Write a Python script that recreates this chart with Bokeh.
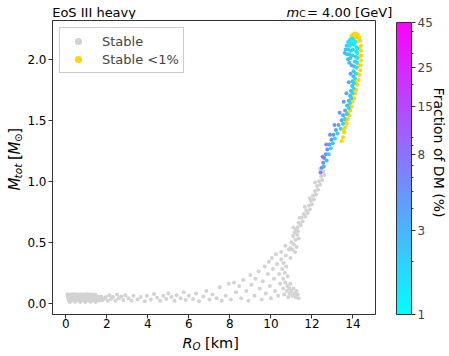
from math import pi
import numpy as np
from bokeh.plotting import figure
from bokeh.layouts import column, row
from bokeh.models import (ColumnDataSource, LogColorMapper, ColorBar, FixedTicker,
                          PrintfTickFormatter, Label, Legend, LegendItem, Range1d)
from bokeh.embed import file_html
from bokeh.resources import INLINE

FONT = "DejaVu Sans"

# ---------------- data ----------------
# stable configurations (grey) : dense low-mass band
band_r = [0.08, 0.20, 0.32, 0.45, 0.57, 0.70, 0.82, 0.95, 1.07, 1.20, 1.32, 1.45,
          0.10, 0.22, 0.35, 0.47, 0.60, 0.72, 0.85, 0.97, 1.10, 1.22, 1.35, 1.47, 1.60, 1.72,
          0.12, 0.25, 0.37, 0.50, 0.62, 0.75, 0.87, 1.00, 1.12, 1.25, 1.37, 1.50, 1.62, 1.75, 1.88,
          0.15, 0.27, 0.40, 0.52, 0.65, 0.77, 0.90, 1.02, 1.15, 1.27, 1.40, 1.52, 1.65, 1.78,
          0.20, 0.45, 0.70, 0.95, 1.20, 1.45]
band_m = [0.072, 0.071, 0.073, 0.072, 0.070, 0.072, 0.071, 0.073, 0.072, 0.070, 0.071, 0.068,
          0.055, 0.056, 0.054, 0.055, 0.057, 0.055, 0.054, 0.056, 0.055, 0.053, 0.056, 0.055, 0.052, 0.054,
          0.038, 0.039, 0.037, 0.038, 0.040, 0.038, 0.037, 0.039, 0.038, 0.036, 0.039, 0.038, 0.037, 0.040, 0.036,
          0.022, 0.023, 0.021, 0.022, 0.024, 0.022, 0.021, 0.023, 0.022, 0.020, 0.023, 0.022, 0.021, 0.024,
          0.010, 0.011, 0.009, 0.010, 0.011, 0.010]
# scattered tail towards larger radii
tail_r = [1.95, 2.05, 2.12, 2.20, 2.30, 2.42, 2.50, 2.58, 2.70, 2.80, 2.90, 3.05, 3.20, 3.30,
          3.50, 3.65, 3.85, 3.95, 4.15, 4.30, 4.45, 4.60, 4.75, 4.90, 5.00, 5.15, 5.30, 5.40,
          5.60, 5.75, 5.85, 6.00, 6.20, 6.35, 6.50, 6.70, 6.85, 7.00, 7.15, 7.35, 7.50, 7.60,
          7.80, 7.95, 8.05, 8.20, 8.30, 8.45, 8.55, 8.65, 8.80, 8.90, 9.00, 9.05, 9.20, 9.25,
          9.40, 9.45, 9.55, 9.60, 9.70, 9.75, 9.85, 9.90, 9.95, 10.00]
tail_m = [0.050, 0.020, 0.065, 0.035, 0.050, 0.020, 0.070, 0.040, 0.055, 0.025, 0.065, 0.040, 0.020, 0.060,
          0.030, 0.050, 0.015, 0.060, 0.030, 0.075, 0.045, 0.020, 0.060, 0.035, 0.080, 0.050, 0.020, 0.065,
          0.040, 0.090, 0.025, 0.060, 0.035, 0.080, 0.015, 0.055, 0.100, 0.030, 0.070, 0.040, 0.130, 0.020,
          0.060, 0.160, 0.030, 0.170, 0.090, 0.140, 0.040, 0.190, 0.100, 0.020, 0.230, 0.150, 0.060, 0.200,
          0.260, 0.120, 0.030, 0.180, 0.300, 0.080, 0.240, 0.340, 0.140, 0.040]
# knot and hook around 10-11.5 km
knot_r = [10.05, 10.10, 10.15, 10.20, 10.25, 10.30, 10.35, 10.40, 10.45, 10.50, 10.50, 10.55,
          10.60, 10.60, 10.62, 10.65, 10.68, 10.70, 10.72, 10.75, 10.78, 10.80, 10.82, 10.85,
          10.88, 10.90, 10.92, 10.95, 11.00, 11.05, 11.10, 11.15, 11.20, 11.25, 11.30, 11.35,
          10.70, 10.95]
knot_m = [0.37, 0.28, 0.20, 0.10, 0.40, 0.32, 0.06, 0.24, 0.16, 0.36, 0.42, 0.28,
          0.20, 0.12, 0.33, 0.07, 0.25, 0.17, 0.39, 0.30, 0.10, 0.14, 0.22, 0.05,
          0.44, 0.12, 0.08, 0.16, 0.10, 0.06, 0.12, 0.08, 0.05, 0.10, 0.07, 0.04,
          0.47, 0.37]
# rising branch up to ~1.1 Msun
rise_r = [10.95, 11.00, 11.05, 11.08, 11.12, 11.15, 11.20, 11.22, 11.25, 11.28, 11.32, 11.10, 11.18, 11.35,
          11.30, 11.35, 11.45, 11.50, 11.55, 11.60, 11.68, 11.72, 11.80, 11.85, 11.90, 11.95, 12.00,
          12.05, 12.10, 12.15, 12.20, 12.25, 12.30, 12.35, 12.40, 12.45, 12.50, 12.55, 12.60,
          11.40, 11.65, 11.90, 12.15, 12.40]
rise_m = [0.45, 0.50, 0.44, 0.55, 0.48, 0.58, 0.52, 0.60, 0.46, 0.56, 0.59, 0.62, 0.42, 0.53,
          0.62, 0.66, 0.64, 0.70, 0.67, 0.73, 0.71, 0.76, 0.74, 0.80, 0.77, 0.84, 0.81,
          0.88, 0.85, 0.92, 0.89, 0.96, 0.93, 1.00, 0.97, 1.04, 1.01, 1.08, 1.05,
          0.70, 0.79, 0.86, 0.99, 1.10]

stable_r = band_r + tail_r + knot_r + rise_r
stable_m = band_m + tail_m + knot_m + rise_m

# stable with a fraction of dark matter (colour = fraction in %)
dm_r = [12.42, 12.48, 12.55, 12.60, 12.58, 12.68, 12.72, 12.75, 12.82, 12.85, 12.92, 12.95,
        13.02, 13.05, 13.12, 13.17, 13.25, 13.30, 13.40, 13.45, 13.52, 13.52, 13.60, 13.62,
        13.70, 13.72, 13.80, 13.80, 13.86, 13.86, 13.92, 13.90, 13.98, 13.96, 14.03, 13.98,
        14.06, 14.02, 14.10, 14.03, 14.14, 14.06, 14.18, 14.10, 14.20, 14.14, 14.21, 14.16,
        14.22, 14.16, 14.22, 14.12, 14.04, 13.95, 13.86, 13.77, 13.70, 13.64, 13.60,
        14.04, 13.94, 13.85, 13.77, 13.71, 14.00, 13.90, 13.82, 13.76, 13.97, 13.88, 13.82,
        12.52, 12.70, 12.88, 13.10, 13.35, 13.55, 13.68, 13.80, 13.88, 13.94]
dm_m = [1.07, 1.11, 1.15, 1.19, 1.12, 1.22, 1.17, 1.26, 1.22, 1.30, 1.27, 1.34,
        1.31, 1.38, 1.35, 1.42, 1.39, 1.46, 1.43, 1.50, 1.47, 1.54, 1.51, 1.58,
        1.55, 1.62, 1.60, 1.66, 1.64, 1.70, 1.68, 1.74, 1.72, 1.78, 1.76, 1.82,
        1.80, 1.86, 1.84, 1.90, 1.88, 1.94, 1.93, 1.98, 1.97, 2.02, 2.01, 2.06,
        2.05, 2.10, 2.09, 2.14, 2.16, 2.17, 2.16, 2.14, 2.11, 2.08, 2.05,
        2.12, 2.13, 2.11, 2.08, 2.04, 2.08, 2.07, 2.04, 2.00, 2.03, 2.01, 1.97,
        1.20, 1.30, 1.38, 1.46, 1.56, 1.65, 1.72, 1.81, 1.88, 1.95]
dm_frac = [6.5, 6.0, 5.5, 6.0, 3.0, 5.0, 2.5, 5.5, 2.0, 4.5, 1.8, 5.0,
           2.2, 4.0, 1.7, 4.5, 2.0, 3.8, 1.6, 4.2, 1.9, 3.5, 1.7, 3.8,
           2.0, 3.2, 1.8, 3.5, 1.6, 3.0, 1.9, 3.2, 1.7, 2.8, 1.6, 2.6,
           1.8, 2.8, 1.5, 2.4, 1.7, 2.6, 1.5, 2.2, 1.6, 2.0, 1.4, 1.8,
           1.3, 1.5, 1.3, 1.3, 1.3, 1.4, 1.5, 1.7, 2.0, 2.4, 2.8,
           1.5, 1.6, 1.8, 2.1, 2.5, 1.7, 1.9, 2.2, 2.7, 2.0, 2.3, 2.8,
           7.0, 6.0, 5.5, 5.0, 4.5, 4.5, 4.0, 3.8, 3.5, 3.2]

# stable with less than 1 % dark matter (gold)
gold_r = [13.45, 13.52, 13.58, 13.62, 13.70, 13.75, 13.82, 13.87, 13.93, 13.98, 14.05, 14.10,
          14.16, 14.22, 14.28, 14.32, 14.36, 14.38, 14.40, 14.40, 14.40, 14.39, 14.36, 14.31,
          14.24, 14.16, 14.08, 14.00,
          13.55, 13.65, 13.75, 13.85, 13.95, 14.05, 14.13, 14.22, 14.28, 14.31, 14.31, 14.28,
          14.20, 14.10, 14.00, 13.92]
gold_m = [1.33, 1.36, 1.40, 1.44, 1.47, 1.51, 1.54, 1.58, 1.61, 1.65, 1.68, 1.72,
          1.75, 1.79, 1.83, 1.87, 1.91, 1.95, 1.99, 2.03, 2.07, 2.11, 2.15, 2.18,
          2.20, 2.21, 2.21, 2.20,
          1.42, 1.49, 1.56, 1.62, 1.69, 1.75, 1.81, 1.88, 1.95, 2.02, 2.09, 2.15,
          2.18, 2.19, 2.18, 2.19]

x_ticks = [0, 2, 4, 6, 8, 10, 12, 14]
y_ticks = [0.0, 0.5, 1.0, 1.5, 2.0]
cb_ticks = [1, 3, 8, 15, 25, 45]
cb_minor = [2, 4, 5, 6, 7, 9, 10, 20, 30, 40]

# ---------------- main figure ----------------
p = figure(frame_width=323, frame_height=294,
           min_border_left=25, min_border_right=20, min_border_top=1, min_border_bottom=18,
           x_range=(-0.65, 15.1), y_range=(-0.093, 2.317),
           output_backend="svg", toolbar_location=None, title=None)
p.background_fill_color = "white"
p.border_fill_color = "white"
p.xgrid.visible = False
p.ygrid.visible = False
p.outline_line_color = "#333333"
p.outline_line_width = 1
p.outline_line_alpha = 1

p.xaxis.ticker = FixedTicker(ticks=x_ticks)
p.xaxis.formatter = PrintfTickFormatter(format="%d")
p.yaxis.ticker = FixedTicker(ticks=y_ticks)
p.yaxis.formatter = PrintfTickFormatter(format="%.1f")
for ax in (p.xaxis[0], p.yaxis[0]):
    ax.major_tick_out = 4
    ax.major_tick_in = 0
    ax.minor_tick_out = 0
    ax.minor_tick_in = 0
    ax.axis_line_color = "#333333"
    ax.major_tick_line_color = "#333333"
    ax.major_label_text_font = FONT
    ax.major_label_text_font_size = "12px"
    ax.major_label_text_color = "black"
p.xaxis.major_label_standoff = 0
p.yaxis.major_label_standoff = 2

palette = ["#%02x%02xff" % (int(round(255 * t)), int(round(255 * (1 - t))))
           for t in np.linspace(0, 1, 256)]
mapper = LogColorMapper(palette=palette, low=1, high=45)

r_gray = p.scatter(stable_r, stable_m, size=4, fill_color="#d3d3d3", line_color=None)
r_gold = p.scatter(gold_r, gold_m, size=4, fill_color="#ffd700", line_color=None)
src = ColumnDataSource(dict(r=dm_r, m=dm_m, f=dm_frac))
p.scatter("r", "m", source=src, size=4,
          fill_color={"field": "f", "transform": mapper}, line_color=None)

legend = Legend(items=[LegendItem(label="Stable", renderers=[r_gray]),
                       LegendItem(label="Stable <1%", renderers=[r_gold])],
                location="top_left", margin=7, padding=4, spacing=0,
                glyph_width=28, glyph_height=18, label_height=18, label_standoff=10,
                label_text_font=FONT, label_text_font_size="13px",
                border_line_color="#cccccc", border_line_alpha=1,
                background_fill_color="white", background_fill_alpha=0.8)
p.add_layout(legend)


# ---------------- text strips around the main figure ----------------
def strip(w, h):
    s = figure(width=w, height=h, x_range=Range1d(0, w), y_range=Range1d(0, h),
               min_border=0, x_axis_location=None, y_axis_location=None,
               output_backend="svg", toolbar_location=None, title=None)
    s.xgrid.visible = False
    s.ygrid.visible = False
    s.outline_line_color = None
    s.background_fill_color = "white"
    s.border_fill_color = "white"
    return s


def add_text(fig, x, y, text, size, style="normal", angle=0.0, align="left"):
    fig.add_layout(Label(x=x, y=y, text=text,
                         text_font=FONT, text_font_size="%gpx" % size, text_font_style=style,
                         angle=angle, text_align=align, text_baseline="alphabetic",
                         text_color="black"))


# titles (strip over the plot, page y 0-19)
top = strip(392, 19)
add_text(top, 51.7, 7.2, "EoS III heavy", 13)
add_text(top, 286, 7.5, "m", 13, "italic")
add_text(top, 298.7, 5.2, "C", 9.1)
add_text(top, 306.5, 7.5, "= 4.00 [GeV]", 13)

# y axis label  M_tot [M_sun]  (page x 0-24, y 19-332)
left = strip(24, 313)
ys = 132.0
add_text(left, 14, ys, "M", 15, "italic", angle=pi / 2)
add_text(left, 17, ys + 12.9, "tot", 10.5, "italic", angle=pi / 2)
add_text(left, 14, ys + 32.4, "[", 15, angle=pi / 2)
add_text(left, 14, ys + 38.3, "M", 15, "italic", angle=pi / 2)
add_text(left, 17, ys + 51.7, "\u2299", 10.5, angle=pi / 2)
add_text(left, 14, ys + 60.5, "]", 15, angle=pi / 2)

# x axis label  R_O [km]  (page y 332-356)
bottom = strip(392, 24)
add_text(bottom, 182, 13.5, "R", 14.5, "italic")
add_text(bottom, 192, 10.5, "O", 10.2, "italic")
add_text(bottom, 204.5, 13.5, "[km]", 14.5)

# colour bar column (page x 392-449, full height)
right = strip(57, 356)
cb = ColorBar(color_mapper=mapper, location=(1, 42), width=15, height=292,
              padding=0, margin=0,
              ticker=FixedTicker(ticks=cb_ticks, minor_ticks=cb_minor),
              formatter=PrintfTickFormatter(format="%d"),
              major_tick_out=4, major_tick_in=0, minor_tick_out=2, minor_tick_in=0,
              major_tick_line_color="#333333", minor_tick_line_color="#333333",
              bar_line_color="#333333", label_standoff=2,
              major_label_text_font=FONT, major_label_text_font_size="12px",
              background_fill_alpha=0, border_line_color=None)
right.add_layout(cb)
add_text(right, 43.5, 204, "Fraction of DM (%)", 14, angle=-pi / 2, align="center")

layout = row(column(top, row(left, p), bottom), right)
open("out.html", "w").write(file_html(layout, INLINE))
